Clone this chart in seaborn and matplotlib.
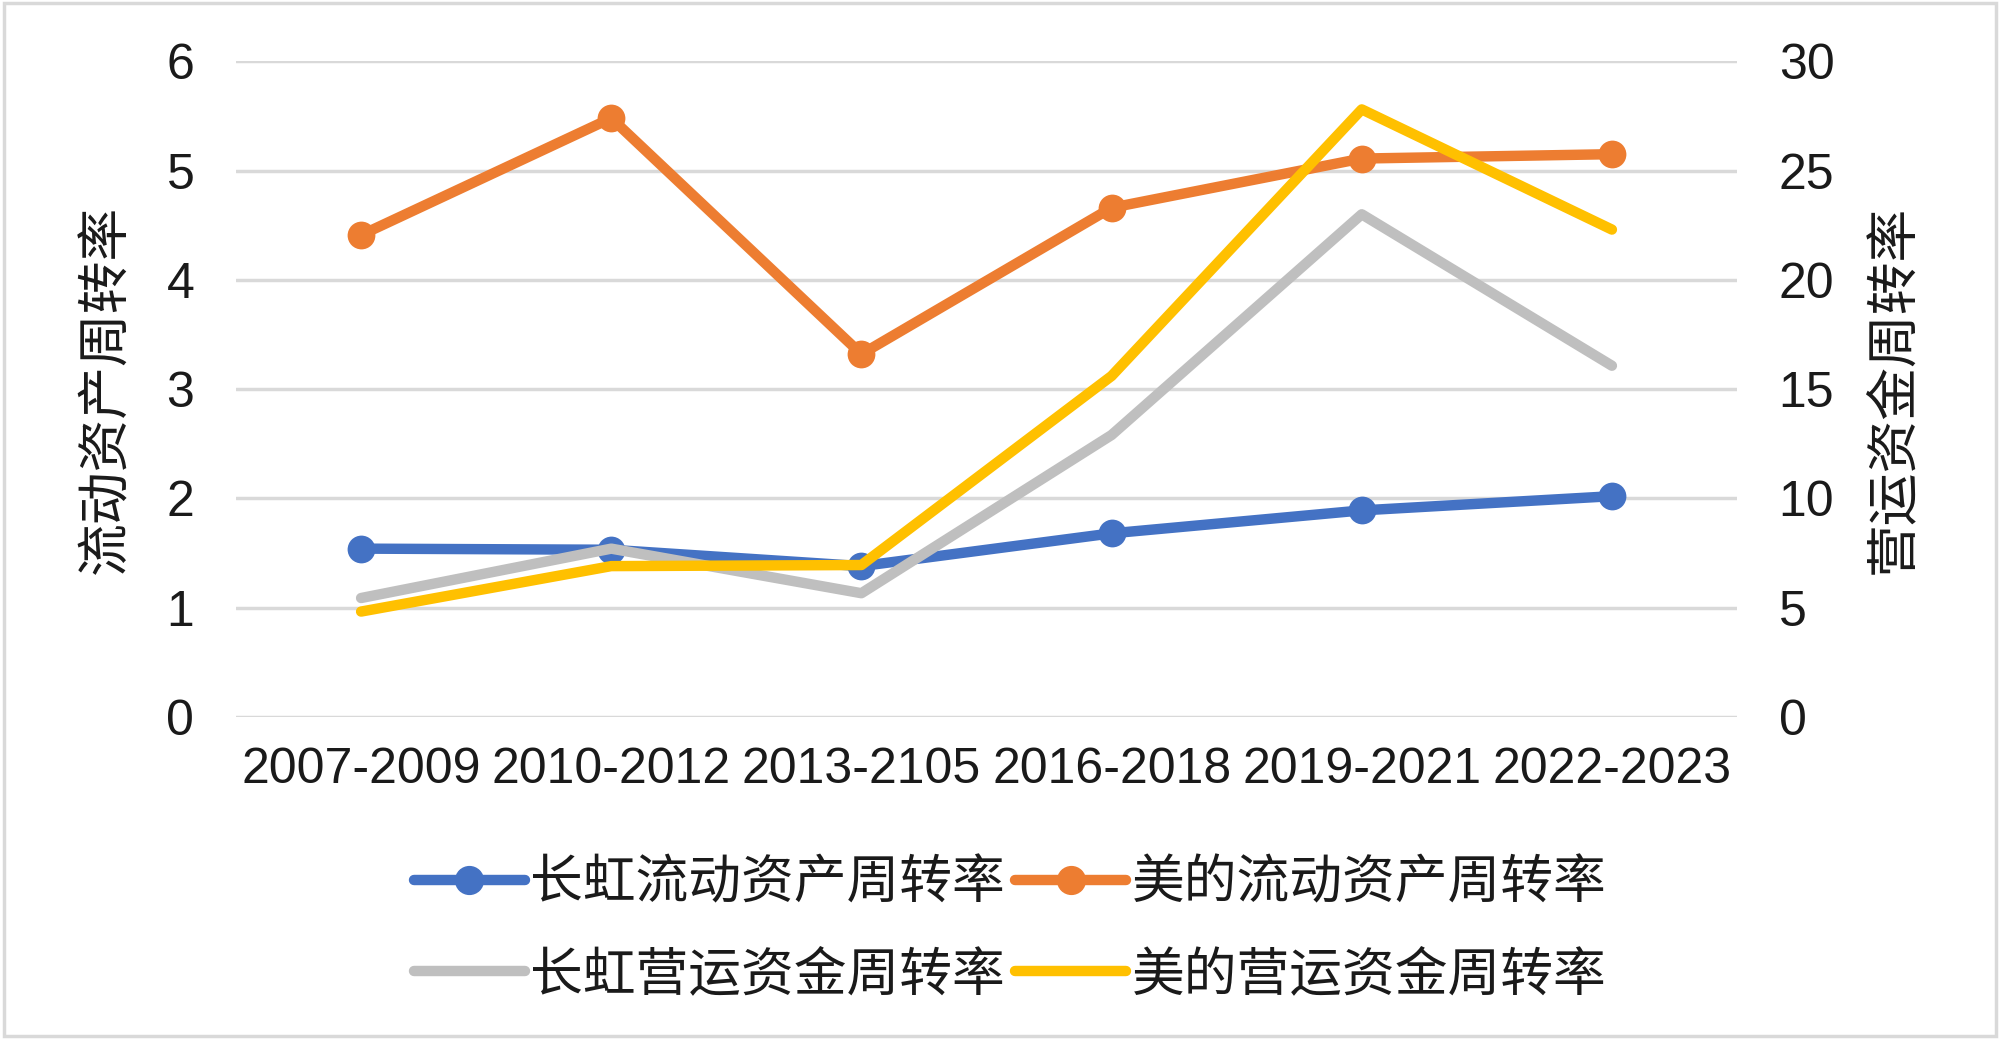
import matplotlib
matplotlib.use('Agg')
import matplotlib.pyplot as plt
import seaborn as sns
import pandas as pd
from matplotlib.lines import Line2D
from matplotlib.patches import Rectangle

periods = ['2007-2009', '2010-2012', '2013-2105', '2016-2018', '2019-2021', '2022-2023']
ch_current = [1.54, 1.53, 1.38, 1.68, 1.89, 2.02]   # 长虹流动资产周转率 (left)
md_current = [4.41, 5.48, 3.32, 4.66, 5.11, 5.15]   # 美的流动资产周转率 (left)
ch_working = [5.44, 7.7, 5.66, 12.9, 23.0, 16.07]   # 长虹营运资金周转率 (right)
md_working = [4.82, 6.9, 6.95, 15.6, 27.8, 22.3]    # 美的营运资金周转率 (right)

df = pd.DataFrame({'period': periods, 'ch_cur': ch_current, 'md_cur': md_current,
                   'ch_wc': ch_working, 'md_wc': md_working})

sns.set_style('white')
plt.rcParams['font.family'] = ['Noto Sans CJK SC', 'DejaVu Sans']

blue = '#4472c4'
orange = '#ed7d31'
gray = '#bfbfbf'
yellow = '#ffc000'
grid_c = '#d9d9d9'
text_c = '#1a1a1a'
lw = 7.5

fig = plt.figure(figsize=(20, 10.39), dpi=100)
ax = fig.add_axes([0.118, 0.310, 0.7505, 0.631])
ax2 = ax.twinx()

sns.lineplot(data=df, x='period', y='ch_cur', ax=ax, color=blue, lw=lw, marker='o',
             markersize=20, markeredgewidth=0, sort=False, solid_capstyle='round')
sns.lineplot(data=df, x='period', y='md_cur', ax=ax, color=orange, lw=lw, marker='o',
             markersize=20, markeredgewidth=0, sort=False, solid_capstyle='round')
sns.lineplot(data=df, x='period', y='ch_wc', ax=ax2, color=gray, lw=lw,
             sort=False, solid_capstyle='round')
sns.lineplot(data=df, x='period', y='md_wc', ax=ax2, color=yellow, lw=lw,
             sort=False, solid_capstyle='round')

ax.set_ylim(0, 6)
ax2.set_ylim(0, 30)
ax.set_xlim(-0.5, 5.5)
ax.set_yticks(range(0, 7))
ax2.set_yticks(range(0, 31, 5))
ax.yaxis.grid(True, color=grid_c, lw=2.5)
ax.set_axisbelow(True)
for a in (ax, ax2):
    for s in a.spines.values():
        s.set_visible(False)
    a.tick_params(length=0, labelsize=36, labelcolor=text_c)
    for t in a.get_yticklabels() + a.get_xticklabels():
        t.set_fontfamily(['Liberation Sans', 'DejaVu Sans'])
ax.tick_params(axis='y', pad=30)
ax2.tick_params(axis='y', pad=30)
ax.tick_params(axis='x', pad=22)

ax.set_xlabel('')
ax.set_ylabel('流动资产周转率', fontsize=38, color=text_c, labelpad=24)
ax2.set_ylabel('营运资金周转率', fontsize=38, color=text_c, labelpad=22)

handles = [
    Line2D([], [], color=blue, lw=lw, marker='o', markersize=20, solid_capstyle='round'),
    Line2D([], [], color=gray, lw=lw, solid_capstyle='round'),
    Line2D([], [], color=orange, lw=lw, marker='o', markersize=20, solid_capstyle='round'),
    Line2D([], [], color=yellow, lw=lw, solid_capstyle='round'),
]
labels = ['长虹流动资产周转率', '长虹营运资金周转率', '美的流动资产周转率', '美的营运资金周转率']
leg = fig.legend(handles, labels, loc='center', bbox_to_anchor=(0.505, 0.106), ncol=2,
                 frameon=False, fontsize=38, handlelength=2.1, handletextpad=0.1,
                 columnspacing=0.2, labelspacing=0.68)
for t in leg.get_texts():
    t.set_color(text_c)

fig.patches.append(Rectangle((0.002, 0.003), 0.996, 0.994, transform=fig.transFigure,
                             fill=False, edgecolor=grid_c, lw=2.5))

fig.savefig('out.png', dpi=100, facecolor='white')
